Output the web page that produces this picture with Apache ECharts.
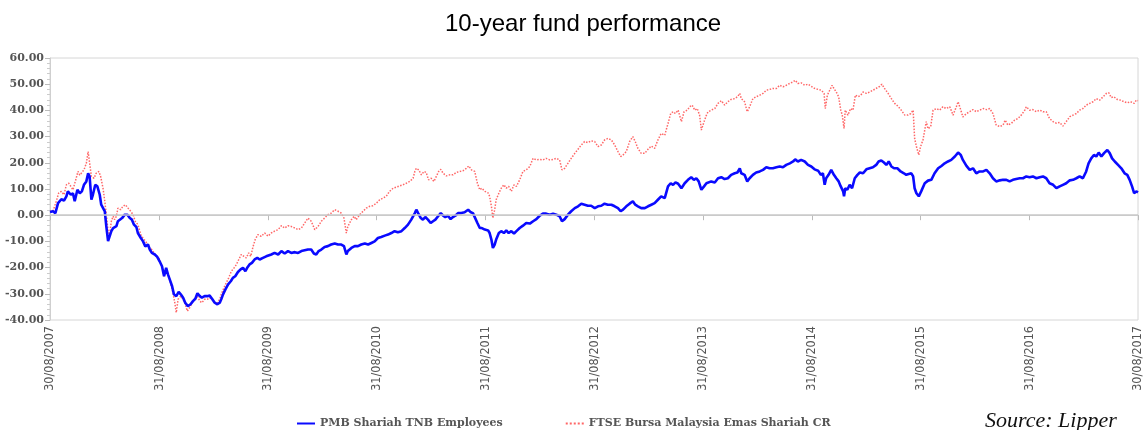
<!DOCTYPE html>
<html>
<head>
<meta charset="utf-8">
<script src="https://cdn.jsdelivr.net/npm/echarts@6/dist/echarts.min.js"></script>
<style>
html,body{margin:0;padding:0;background:#fff;}
#chart{width:1148px;height:430px;}
</style>
</head>
<body>
<div id="chart"></div>
<script>
// Time is given as day offset from 30/08/2007; values are cumulative % return.
const titleText = '10-year fund performance';
const sourceText = 'Source: Lipper';
const seriesNames = ['PMB Shariah TNB Employees', 'FTSE Bursa Malaysia Emas Shariah CR'];
const tickLabels = ['30/08/2007','31/08/2008','31/08/2009','31/08/2010','31/08/2011','31/08/2012','31/08/2013','31/08/2014','31/08/2015','31/08/2016','30/08/2017'];
const yTicks = { min: -40, max: 60, step: 10 };

const pmbPoints = [[0,1.2],[10,1.5],[18,0.8],[27,4.6],[38,6.1],[47,5.6],[55,7.2],[60,9.1],[70,7.8],[77,8.4],[83,5.3],[92,9.7],[100,8.4],[107,9.1],[114,11.6],[122,12.9],[128,16.0],[133,14.8],[139,5.9],[144,7.8],[152,11.6],[159,11.0],[167,7.8],[172,4.0],[178,3.4],[184,1.5],[189,-4.2],[195,-9.9],[200,-10.6],[206,-6.1],[212,-4.9],[217,-5.5],[223,-4.2],[228,-2.3],[234,-1.7],[242,-1.1],[251,0.2],[260,0.2],[268,-1.1],[275,-1.7],[282,-3.6],[290,-4.5],[295,-6.8],[305,-8.7],[312,-9.9],[320,-11.9],[329,-11.2],[335,-13.1],[342,-14.4],[352,-15.0],[360,-15.9],[368,-17.6],[376,-19.5],[383,-23.3],[390,-20.1],[396,-22.6],[402,-24.5],[410,-27.1],[416,-30.2],[424,-30.9],[432,-29.3],[439,-30.2],[447,-31.5],[454,-33.4],[463,-34.7],[472,-34.0],[480,-32.8],[488,-31.9],[495,-29.8],[503,-30.9],[510,-31.5],[519,-30.9],[528,-30.9],[536,-30.7],[544,-31.9],[553,-33.4],[562,-34.0],[570,-33.4],[575,-32.1],[581,-30.2],[589,-28.3],[598,-26.4],[607,-25.2],[614,-23.9],[622,-23.3],[631,-21.7],[640,-20.7],[648,-20.1],[656,-21.4],[662,-20.1],[670,-18.8],[678,-18.2],[687,-16.9],[696,-16.3],[704,-16.9],[715,-16.3],[726,-15.7],[732,-15.8],
[743,-15.0],[754,-14.4],[766,-15.0],[777,-13.7],[788,-14.6],[799,-13.7],[810,-14.4],[822,-14.1],[833,-14.4],[844,-13.7],[855,-13.4],[866,-13.1],[877,-13.1],[886,-14.6],[894,-15.0],[902,-13.7],[911,-13.1],[922,-12.1],[933,-11.8],[944,-11.2],[956,-10.8],[967,-11.2],[978,-11.2],[987,-11.8],[995,-15.0],[1000,-13.7],[1012,-12.5],[1023,-11.8],[1034,-11.8],[1045,-11.2],[1057,-10.8],[1068,-11.2],[1079,-10.6],[1090,-10.0],[1101,-8.7],[1112,-8.3],[1124,-7.8],[1135,-7.4],[1146,-6.8],[1157,-6.1],[1168,-6.5],[1180,-6.1],[1191,-4.9],[1202,-3.6],[1213,-1.7],[1225,0.8],[1230,2.1],[1236,0.8],[1245,-1.1],[1252,-1.7],[1260,-0.7],[1269,-1.7],[1278,-3.0],[1286,-2.3],[1294,-1.7],[1303,-0.4],[1312,0.8],[1320,-0.2],[1327,-0.7],[1336,-0.2],[1345,-1.5],[1353,-0.7],[1361,-0.2],[1370,0.8],[1381,0.8],[1392,1.1],[1404,2.1],[1413,1.1],[1420,0.8],[1426,0.2],[1435,-3.0],[1443,-4.9],[1450,-4.9],[1460,-5.5],[1471,-5.8],
[1476,-6.8],[1482,-9.3],[1487,-12.5],[1493,-11.2],[1498,-9.3],[1507,-6.8],[1515,-6.1],[1524,-6.8],[1532,-5.8],[1540,-6.8],[1549,-6.1],[1558,-7.0],[1566,-6.1],[1577,-4.9],[1588,-4.0],[1599,-3.0],[1611,-3.2],[1622,-2.3],[1633,-1.5],[1644,-0.2],[1655,0.6],[1666,0.6],[1678,0.2],[1689,0.6],[1700,0.2],[1711,-0.4],[1719,-2.3],[1728,-1.5],[1739,0.2],[1750,1.5],[1762,2.7],[1773,3.4],[1784,4.4],[1795,4.0],[1806,3.6],[1817,3.6],[1829,2.7],[1840,3.4],[1851,3.6],[1862,4.4],[1873,4.0],[1885,4.0],[1896,3.4],[1907,2.7],[1916,1.5],[1924,2.1],[1935,3.4],[1946,4.4],[1957,5.3],[1965,4.0],[1974,3.4],[1985,2.7],[1997,2.7],[2008,3.4],[2019,4.0],[2030,4.6],[2041,5.9],[2052,7.2],[2064,6.5],[2075,11.0],[2084,12.2],[2092,11.6],[2100,12.5],[2109,12.0],[2120,10.3],[2131,12.2],[2142,13.5],[2153,14.5],[2162,13.5],[2170,14.1],[2178,12.9],[2187,9.7],[2196,11.0],[2204,12.2],[2209,12.4],
[2220,12.9],[2232,12.5],[2243,14.1],[2254,14.5],[2265,13.8],[2276,14.1],[2287,15.4],[2299,16.0],[2308,16.3],[2316,17.9],[2321,16.0],[2332,15.4],[2341,12.9],[2349,14.1],[2360,15.4],[2371,16.3],[2383,16.7],[2394,17.3],[2405,18.3],[2416,17.9],[2427,17.9],[2439,18.3],[2450,18.6],[2461,18.3],[2472,19.2],[2484,19.8],[2495,20.5],[2502,21.3],[2511,20.5],[2522,21.1],[2534,20.5],[2545,19.2],[2556,18.6],[2567,17.5],[2579,17.0],[2588,15.4],[2595,16.0],[2601,11.6],[2606,14.1],[2614,15.4],[2623,17.3],[2632,15.4],[2640,14.1],[2648,12.9],[2655,11.0],[2663,9.1],[2666,7.2],[2670,10.3],[2677,9.7],[2685,11.6],[2693,10.3],[2702,14.1],[2711,15.4],[2719,16.3],[2730,16.0],[2741,17.5],[2752,17.9],[2763,18.3],[2774,19.2],[2782,20.5],[2791,20.9],[2800,20.1],[2808,19.2],[2816,20.5],[2825,18.6],[2834,17.9],[2845,17.9],[2856,16.7],[2867,16.0],[2875,15.4],[2883,15.7],[2892,16.0],[2898,14.8],[2903,10.3],[2909,8.4],[2917,7.2],[2925,9.1],[2937,12.2],[2948,13.2],
[2959,13.5],[2970,16.0],[2982,17.9],[2993,18.8],[3004,19.8],[3015,20.5],[3026,21.1],[3038,22.4],[3049,23.9],[3058,23.0],[3065,21.1],[3077,18.8],[3088,17.3],[3099,17.9],[3110,16.0],[3121,16.7],[3133,16.7],[3144,17.3],[3155,16.0],[3166,14.1],[3177,12.9],[3189,13.3],[3200,13.5],[3211,13.5],[3222,12.9],[3233,13.5],[3244,13.8],[3256,14.1],[3267,14.1],[3278,14.8],[3289,14.5],[3300,14.8],[3312,14.1],[3323,14.5],[3334,14.8],[3345,14.1],[3356,12.2],[3368,11.6],[3379,10.3],[3390,11.0],[3401,11.6],[3412,12.2],[3424,13.3],[3435,13.5],[3446,14.1],[3457,14.8],[3468,14.1],[3479,16.7],[3487,19.8],[3496,21.7],[3505,23.0],[3513,22.4],[3521,23.9],[3530,22.4],[3539,23.7],[3550,24.9],[3558,23.7],[3566,21.7],[3575,20.5],[3586,19.2],[3597,17.9],[3608,16.0],[3617,15.4],[3625,13.5],[3633,11.0],[3640,8.4],[3647,9.1],[3653,8.7]];

const ftsePoints = [[0,1.5],[10,1.5],[21,5.3],[29,8.4],[38,9.1],[47,7.8],[55,11.6],[63,12.2],[70,11.0],[77,9.7],[85,12.9],[94,16.7],[100,15.3],[105,14.8],[114,17.3],[122,19.8],[128,24.3],[133,23.6],[139,14.8],[148,14.1],[155,16.0],[164,16.7],[170,14.8],[178,10.3],[184,5.3],[189,0.2],[195,-6.1],[200,-7.4],[206,-2.3],[212,-0.4],[217,-1.7],[223,-0.4],[228,2.7],[237,2.1],[245,3.4],[253,4.0],[262,2.7],[271,1.5],[279,0.2],[286,-2.3],[295,-3.6],[305,-7.4],[312,-8.7],[320,-9.9],[329,-11.2],[335,-12.5],[342,-13.1],[352,-15.0],[360,-15.7],[368,-16.9],[376,-19.5],[383,-23.3],[390,-20.7],[399,-23.3],[405,-25.9],[413,-29.7],[419,-33.4],[424,-37.2],[430,-32.1],[439,-30.9],[447,-32.1],[454,-34.0],[461,-36.6],[469,-35.3],[477,-33.4],[486,-32.1],[495,-30.9],[503,-32.8],[510,-33.4],[519,-32.1],[528,-32.1],[536,-31.5],[544,-32.1],[553,-33.4],[562,-33.4],[570,-32.1],[575,-30.2],[584,-27.7],[592,-25.8],[600,-23.9],[609,-21.4],[618,-20.1],[626,-18.8],[634,-16.9],[642,-15.0],[651,-15.7],[659,-16.3],[667,-14.4],[674,-15.7],[682,-11.9],[689,-9.3],[698,-7.4],[709,-8.1],[721,-6.8],[732,-8.0],
[743,-6.8],[754,-6.1],[766,-5.5],[777,-4.0],[788,-4.9],[799,-4.0],[810,-4.3],[822,-4.9],[833,-5.5],[844,-4.9],[855,-3.0],[866,-1.1],[877,-2.3],[889,-5.5],[900,-4.3],[911,-2.3],[922,-1.1],[933,0.2],[944,0.8],[956,2.1],[967,1.5],[978,0.8],[987,-1.1],[995,-6.8],[1000,-4.3],[1012,-1.7],[1021,-0.4],[1028,-1.7],[1040,0.2],[1051,1.5],[1062,2.7],[1073,3.4],[1084,3.6],[1096,4.6],[1107,5.9],[1118,6.5],[1129,7.2],[1140,9.1],[1152,10.3],[1163,10.7],[1174,11.2],[1185,11.6],[1196,12.2],[1208,12.9],[1219,14.1],[1225,16.7],[1230,17.9],[1238,17.3],[1247,15.4],[1256,16.7],[1263,16.3],[1271,13.5],[1280,14.1],[1289,12.9],[1297,14.8],[1305,16.7],[1312,17.5],[1320,16.0],[1331,15.0],[1342,15.4],[1353,15.4],[1364,16.3],[1376,16.7],[1387,17.0],[1398,17.9],[1406,18.8],[1415,17.3],[1426,16.7],[1435,12.2],[1443,9.7],[1450,10.3],[1460,9.1],[1471,8.5],
[1476,7.2],[1482,3.4],[1487,-1.1],[1493,2.1],[1498,5.9],[1507,8.4],[1515,10.3],[1524,11.6],[1532,10.3],[1540,11.0],[1549,9.1],[1558,11.6],[1566,11.0],[1577,13.5],[1588,16.7],[1599,17.3],[1611,18.6],[1622,21.7],[1633,21.1],[1644,21.3],[1655,21.1],[1666,21.7],[1678,21.1],[1689,21.3],[1700,21.7],[1711,21.1],[1719,17.3],[1728,17.9],[1739,19.8],[1750,21.7],[1762,23.6],[1773,25.2],[1784,26.8],[1795,28.1],[1806,27.7],[1817,28.4],[1829,28.1],[1840,26.2],[1851,26.8],[1862,28.7],[1873,29.3],[1885,28.7],[1896,26.8],[1907,24.3],[1916,22.4],[1924,23.0],[1935,24.3],[1946,28.1],[1957,30.0],[1965,28.1],[1974,25.5],[1985,23.6],[1997,23.6],[2008,25.2],[2019,26.4],[2030,25.5],[2041,28.7],[2052,31.2],[2064,30.5],[2075,35.0],[2084,38.8],[2092,39.5],[2100,38.8],[2109,40.1],[2120,35.7],[2129,39.5],[2140,40.1],[2148,41.4],[2156,42.0],[2165,40.1],[2173,40.7],[2181,38.2],[2187,32.5],[2196,35.7],[2204,38.2],[2209,39.4],
[2220,40.1],[2232,40.7],[2243,42.7],[2254,43.7],[2265,42.0],[2276,43.3],[2287,44.2],[2299,44.5],[2308,45.2],[2316,46.5],[2321,44.5],[2332,43.3],[2341,39.5],[2349,41.4],[2360,44.5],[2371,45.2],[2383,45.8],[2394,46.5],[2405,47.7],[2416,48.0],[2427,48.4],[2439,48.4],[2450,49.6],[2461,49.0],[2472,49.6],[2484,50.3],[2495,50.9],[2502,51.5],[2511,50.3],[2522,50.5],[2534,49.6],[2545,50.0],[2556,49.2],[2567,48.4],[2579,48.0],[2590,47.7],[2599,46.5],[2603,40.7],[2610,45.8],[2618,47.7],[2626,49.6],[2632,48.4],[2640,47.0],[2648,45.2],[2655,40.1],[2660,38.2],[2666,33.1],[2670,40.1],[2679,38.2],[2688,40.7],[2696,40.1],[2704,45.8],[2713,45.2],[2722,45.8],[2730,47.0],[2741,46.5],[2752,47.0],[2763,47.7],[2774,48.4],[2786,49.2],[2793,50.0],[2802,48.4],[2814,46.5],[2825,44.5],[2836,42.7],[2847,41.6],[2858,40.1],[2870,38.2],[2881,38.2],[2890,38.8],[2898,40.1],[2903,29.3],[2909,26.2],[2917,23.0],[2923,26.2],[2931,28.7],[2937,32.5],[2942,35.7],[2948,33.0],
[2957,33.8],[2965,40.1],[2976,40.7],[2987,40.1],[2998,41.4],[3009,40.7],[3021,41.4],[3032,38.2],[3043,41.4],[3049,43.3],[3058,40.1],[3065,37.5],[3077,38.8],[3088,39.5],[3099,40.3],[3110,39.5],[3121,40.1],[3133,40.7],[3144,40.3],[3155,40.7],[3166,38.8],[3177,34.4],[3189,33.8],[3200,34.4],[3207,36.3],[3216,34.4],[3228,35.1],[3239,36.3],[3250,36.9],[3261,38.2],[3273,40.1],[3278,41.4],[3289,40.1],[3300,40.3],[3312,39.5],[3323,40.1],[3334,39.5],[3345,39.5],[3356,36.9],[3368,35.7],[3379,35.1],[3390,35.4],[3401,34.0],[3412,35.7],[3424,37.6],[3435,38.2],[3446,38.8],[3457,40.1],[3468,40.7],[3479,42.0],[3491,42.7],[3502,43.3],[3513,44.5],[3524,43.9],[3536,45.2],[3547,46.5],[3555,46.7],[3563,44.9],[3572,45.2],[3583,44.2],[3595,43.9],[3606,43.3],[3617,42.9],[3628,43.3],[3640,42.7],[3647,43.9],[3653,43.7]];

// derive tick day offsets from the tick label dates
function parseDMY(s){ const p = s.split('/'); return Date.UTC(+p[2], +p[1]-1, +p[0]); }
const startMs = parseDMY(tickLabels[0]);
const tickDays = tickLabels.map(s => Math.round((parseDMY(s) - startMs) / 86400000));

const chart = echarts.init(document.getElementById('chart'), null, {renderer: 'canvas'});
const axisGray = '#cfcfcf';
const labelFont = "'DejaVu Serif', 'Liberation Serif', serif";

chart.setOption({
  animation: false,
  backgroundColor: '#ffffff',
  title: {
    text: titleText,
    left: 440,
    top: 7,
    textStyle: { fontFamily: "'Liberation Sans', Arial, sans-serif", fontSize: 24, fontWeight: 'normal', color: '#000' }
  },
  legend: {
    data: seriesNames,
    left: 291,
    top: 413,
    itemWidth: 18,
    itemHeight: 10,
    itemGap: 62,
    itemStyle: { opacity: 0 },
    textStyle: { fontFamily: labelFont, fontWeight: 'bold', fontSize: 11, color: '#555' }
  },
  graphic: [{
    type: 'text',
    left: 985,
    top: 410,
    style: { text: sourceText, fontFamily: "'Liberation Serif', 'DejaVu Serif', serif", fontStyle: 'italic', fontSize: 22, fill: '#111' }
  }],
  grid: {
    left: 50, right: 10, top: 58, bottom: 110,
    containLabel: false,
    outerBoundsMode: 'none',
    show: true,
    borderColor: '#d6d6d6',
    borderWidth: 1
  },
  xAxis: {
    type: 'value',
    min: tickDays[0],
    max: tickDays[tickDays.length - 1],
    axisLine: { show: true, lineStyle: { color: axisGray } },
    axisTick: { show: true, length: 5, customValues: tickDays, lineStyle: { color: '#bbb' } },
    splitLine: { show: false },
    axisLabel: {
      customValues: tickDays,
      rotate: 90,
      margin: 6,
      hideOverlap: false,
      showMinLabel: true,
      showMaxLabel: true,
      fontFamily: "'DejaVu Sans Condensed', 'Liberation Sans Narrow', sans-serif",
      fontSize: 12.5,
      color: '#555',
      formatter: function (v) {
        const i = tickDays.indexOf(Math.round(v));
        return i >= 0 ? tickLabels[i] : '';
      }
    }
  },
  yAxis: {
    type: 'value',
    min: yTicks.min,
    max: yTicks.max,
    interval: yTicks.step,
    axisLine: { show: true, lineStyle: { color: axisGray } },
    axisTick: { show: true, length: 5, lineStyle: { color: '#bbb' } },
    minorTick: { show: true, splitNumber: 5, length: 3, lineStyle: { color: '#ccc' } },
    splitLine: { show: false },
    axisLabel: {
      margin: 6,
      fontFamily: labelFont,
      fontWeight: 'bold',
      fontSize: 11,
      color: '#555',
      formatter: v => v.toFixed(2)
    }
  },
  series: [
    {
      name: 'zero',
      type: 'line',
      data: [],
      z: 1,
      silent: true,
      markLine: {
        silent: true,
        symbol: 'none',
        label: { show: false },
        lineStyle: { color: '#c8c8c8', width: 1.5, type: 'solid' },
        data: [{ yAxis: 0 }]
      }
    },
    {
      name: seriesNames[1],
      type: 'line',
      z: 2,
      symbol: 'none',
      data: ftsePoints,
      color: '#ff5555',
      lineStyle: { color: '#ff5555', width: 1.5, type: 'dotted', opacity: 0.9 }
    },
    {
      name: seriesNames[0],
      type: 'line',
      z: 3,
      symbol: 'none',
      data: pmbPoints,
      color: '#0a0aff',
      lineStyle: { color: '#0a0aff', width: 2.6 }
    }
  ]
});
</script>
</body>
</html>
